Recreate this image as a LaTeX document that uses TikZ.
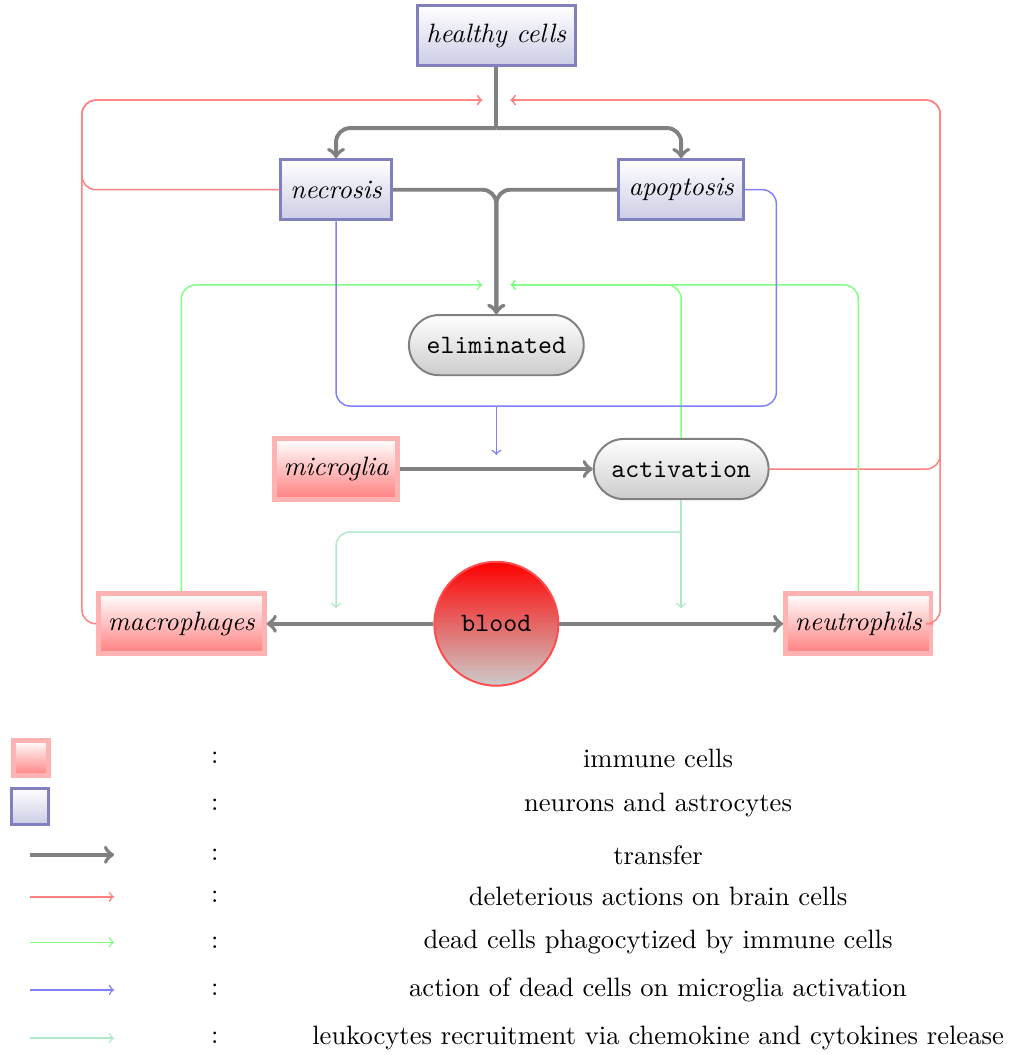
\documentclass[tikz,border=0pt]{standalone}
\usepackage{amssymb}
\usepackage{amsmath}
\usepackage{tikz}
\usetikzlibrary{shapes.misc}

\definecolor{recruitcol}{RGB}{176,232,200}

\tikzset{
  neuron/.style={draw=blue!50!black!50, line width=1.2pt, top color=white, bottom color=blue!50!black!20,
    minimum height=0.86cm, inner xsep=3.9pt, font=\itshape},
  immune/.style={draw=red!30, line width=2pt, top color=white, bottom color=red!50,
    minimum height=0.86cm, inner xsep=3.8pt, font=\itshape},
  event/.style={rounded rectangle, draw=black!50, thick, top color=white, bottom color=black!20,
    minimum width=2.75cm, minimum height=0.86cm, font=\ttfamily},
  transfer/.style={->, black!50, ultra thick, rounded corners=2mm},
  deleterious/.style={->, red!50, semithick, rounded corners=2mm},
  phago/.style={->, green!50, semithick, rounded corners=2mm},
  deadact/.style={->, blue!50, semithick, rounded corners=2mm},
  recruit/.style={->, recruitcol, semithick, rounded corners=2mm}
}

\begin{document}
\fontsize{10.8pt}{13pt}\selectfont
\begin{tikzpicture}
\useasboundingbox (0,0) rectangle (14.4,-15.07);

% cells
\node[neuron] (healthy) at (7.09,-0.51) {healthy cells};
\node[neuron] (necrosis) at (4.80,-2.71) {necrosis};
\node[neuron] (apoptosis) at (9.73,-2.71) {apoptosis};
\node[event] (eliminated) at (7.09,-4.93) {eliminated};
\node[immune] (microglia) at (4.80,-6.70) {microglia};
\node[event] (activation) at (9.73,-6.70) {activation};
\node[circle, draw=red!70, thick, top color=red, bottom color=black!20, minimum size=1.77cm, font=\ttfamily] (blood) at (7.09,-8.91) {blood};
\node[immune] (macrophages) at (2.59,-8.91) {macrophages};
\node[immune] (neutrophils) at (12.26,-8.91) {neutrophils};

\coordinate (split) at (7.09,-1.83);
\coordinate (hitL) at (6.89,-1.43);
\coordinate (hitR) at (7.29,-1.43);
\coordinate (eatL) at (6.89,-4.07);
\coordinate (eatR) at (7.29,-4.07);
\coordinate (deadJ) at (7.09,-5.80);
\coordinate (deadTip) at (7.09,-6.50);
\coordinate (callM) at (4.80,-8.69);
\coordinate (callN) at (9.73,-8.69);
\coordinate (callJ) at (9.73,-7.60);

% red: deleterious actions
\draw[deleterious] (necrosis.west) -| (1.17,-1.43) -- (hitL);
\draw[deleterious] (macrophages.west) -| (1.17,-1.43) -- (hitL);
\draw[deleterious] (activation.east) -| (13.43,-1.43) -- (hitR);
\draw[deleterious] (neutrophils.east) -| (13.43,-1.43) -- (hitR);

% green: phagocytosis
\draw[phago] (macrophages.north) |- (eatL);
\draw[phago] (neutrophils.north) |- (eatR);
\draw[phago] (activation.north) |- (eatR);

% blue: dead cells on microglia
\draw[blue!50, semithick, rounded corners=2mm] (necrosis.south) |- (deadJ);
\draw[blue!50, semithick, rounded corners=2mm] (apoptosis.east) -| (11.09,-5.80) -- (deadJ);
\draw[deadact] (deadJ) -- (deadTip);

% light green: recruitment
\draw[recruit] (activation.south) -- (callN);
\draw[recruit] (callJ) -| (callM);

% gray: transfer
\draw[black!50, ultra thick] (healthy.south) -- (split);
\draw[transfer] (split) -| (necrosis.north);
\draw[transfer] (split) -| (apoptosis.north);
\draw[transfer] (necrosis.east) -| (eliminated.north);
\draw[transfer] (apoptosis.west) -| (eliminated.north);
\draw[transfer] (microglia) -- (activation);
\draw[transfer] (blood) -- (macrophages);
\draw[transfer] (blood) -- (neutrophils);

% legend
\node[immune, minimum size=0.5cm, inner sep=0pt] (keyimmune) at (0.44,-10.83) {};
\node[neuron, minimum size=0.52cm, inner sep=0pt] (keyneuron) at (0.43,-11.52) {};
\draw[transfer] (0.43,-12.21) -- (1.63,-12.21);
\draw[deleterious] (0.43,-12.81) -- (1.63,-12.81);
\draw[phago] (0.43,-13.46) -- (1.63,-13.46);
\draw[deadact] (0.43,-14.14) -- (1.63,-14.14);
\draw[recruit] (0.43,-14.83) -- (1.63,-14.83);

\node (c1) at (3.07,-10.83) {:};
\node (c2) at (3.07,-11.50) {:};
\node (c3) at (3.07,-12.21) {:};
\node (c4) at (3.07,-12.81) {:};
\node (c5) at (3.07,-13.46) {:};
\node (c6) at (3.07,-14.14) {:};
\node (c7) at (3.07,-14.83) {:};

\node (t1) at (9.40,-10.83) {immune cells};
\node (t2) at (9.40,-11.50) {neurons and astrocytes};
\node (t3) at (9.40,-12.21) {transfer};
\node (t4) at (9.40,-12.81) {deleterious actions on brain cells};
\node (t5) at (9.40,-13.46) {dead cells phagocytized by immune cells};
\node (t6) at (9.40,-14.14) {action of dead cells on microglia activation};
\node (t7) at (9.40,-14.83) {leukocytes recruitment via chemokine and cytokines release};
\end{tikzpicture}
\end{document}
